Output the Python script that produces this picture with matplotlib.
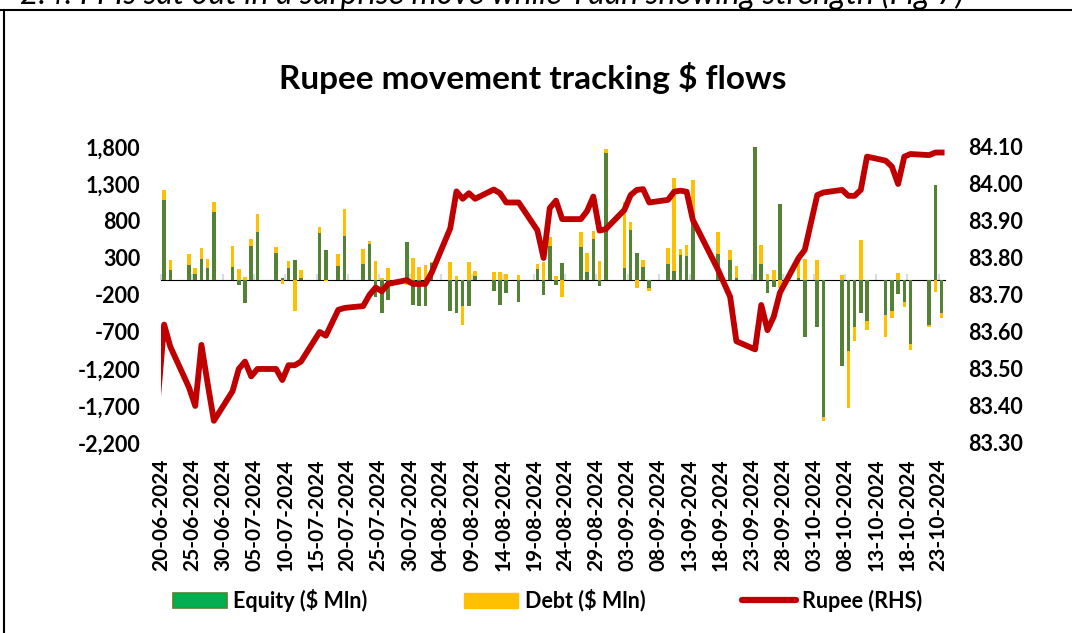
import matplotlib
matplotlib.use("Agg")
import matplotlib.pyplot as plt
from matplotlib.lines import Line2D
from matplotlib.patches import Patch
from matplotlib.ticker import FuncFormatter
import numpy as np
import pandas as pd

plt.rcParams['font.family'] = ['Lato', 'DejaVu Sans']
plt.rcParams['font.weight'] = 'bold'

# daily FPI flows ($ mn) and USD/INR, trading days only
flow_dates = [
    '20-06-2024', '21-06-2024', '24-06-2024', '25-06-2024', '26-06-2024', '27-06-2024', '28-06-2024',
    '01-07-2024', '02-07-2024', '03-07-2024', '04-07-2024', '05-07-2024',
    '08-07-2024', '09-07-2024', '10-07-2024', '11-07-2024', '12-07-2024',
    '15-07-2024', '16-07-2024', '18-07-2024', '19-07-2024',
    '22-07-2024', '23-07-2024', '24-07-2024', '25-07-2024', '26-07-2024',
    '29-07-2024', '30-07-2024', '31-07-2024', '01-08-2024', '02-08-2024',
    '05-08-2024', '06-08-2024', '07-08-2024', '08-08-2024', '09-08-2024',
    '12-08-2024', '13-08-2024', '14-08-2024', '16-08-2024',
    '19-08-2024', '20-08-2024', '21-08-2024', '22-08-2024', '23-08-2024',
    '26-08-2024', '27-08-2024', '28-08-2024', '29-08-2024', '30-08-2024',
    '02-09-2024', '03-09-2024', '04-09-2024', '05-09-2024', '06-09-2024',
    '09-09-2024', '10-09-2024', '11-09-2024', '12-09-2024', '13-09-2024',
    '17-09-2024', '19-09-2024', '20-09-2024',
    '23-09-2024', '24-09-2024', '25-09-2024', '26-09-2024', '27-09-2024',
    '30-09-2024', '01-10-2024', '03-10-2024', '04-10-2024',
    '07-10-2024', '08-10-2024', '09-10-2024', '10-10-2024', '11-10-2024',
    '14-10-2024', '15-10-2024', '16-10-2024', '17-10-2024', '18-10-2024',
    '21-10-2024', '22-10-2024', '23-10-2024',
]

equity = [
    1084, 135, 202, 90, 288, 166, 922,
    175, -68, -310, 459, 657,
    369, 27, 171, 274, 32,
    635, 410, 194, 594,
    216, 486, -225, -441, -270,
    522, -333, -351, -351, 230,
    -414, -450, -347, -347, 50,
    -149, -338, -180, -293,
    147, -203, 464, -63, 230,
    450, 104, 563, -77, 1719,
    171, 675, 374, 180, -99,
    216, 126, 342, 329, 800,
    351, 279, 36,
    1800, 225, -180, -90, 1035,
    36, -774, -630, -1845,
    -1161, -963, -639, -446, -558,
    -468, -414, -189, -297, -864,
    -608, 1283, -450,
]

debt = [
    131, 139, 158, 76, 148, 122, 131,
    284, 153, 40, 94, 243,
    81, -45, 90, -423, 103,
    90, -5, 166, 369,
    212, 45, 261, 36, 171,
    -60, 297, 180, 211, 10,
    239, 50, -261, 239, 68,
    113, 117, 81, 68,
    72, 248, 121, 58, -234,
    207, 265, 103, 257, 50,
    887, 113, -108, 90, -50,
    216, 1260, 86, 148, 550,
    306, 135, 158,
    0, 248, 81, 140, -110,
    225, 284, 275, -63,
    68, -765, -189, 540, -113,
    -306, -95, 95, -59, -81,
    -23, -158, -63,
]

rupee_dates = ['19-06-2024'] + flow_dates
rupee = [
    83.42,
    83.62, 83.56, 83.45, 83.40, 83.565, 83.46, 83.36,
    83.44, 83.50, 83.52, 83.48, 83.50,
    83.50, 83.47, 83.51, 83.51, 83.52,
    83.60, 83.59, 83.66, 83.665,
    83.67, 83.70, 83.72, 83.71, 83.73,
    83.74, 83.73, 83.73, 83.73, 83.76,
    83.88, 83.98, 83.96, 83.975, 83.96,
    83.985, 83.975, 83.95, 83.95,
    83.875, 83.80, 83.935, 83.955, 83.905,
    83.905, 83.927, 83.966, 83.874, 83.878,
    83.93, 83.97, 83.984, 83.986, 83.95,
    83.957, 83.979, 83.982, 83.979, 83.903,
    83.77, 83.695, 83.575,
    83.553, 83.673, 83.605, 83.641, 83.706,
    83.80, 83.822, 83.97, 83.977,
    83.984, 83.968, 83.968, 83.984, 84.074,
    84.063, 84.047, 84.00, 84.074, 84.081,
    84.078, 84.085, 84.085,
]

start = pd.Timestamp('2024-06-20')
end = pd.Timestamp('2024-10-23')

GREEN = '#548235'
YELLOW = '#FFC000'
RED = '#C00000'
AXIS = '#D6DCE5'

xf = (pd.to_datetime(flow_dates, format='%d-%m-%Y') - start).days.values + 0.5
xr = (pd.to_datetime(rupee_dates, format='%d-%m-%Y') - start).days.values + 0.5
eq = np.array(equity, dtype=float)
dt = np.array(debt, dtype=float)
# excel-style stacking: same-sign values stack, opposite signs start at zero
debt_bottom = np.where(np.sign(eq) == np.sign(dt), eq, 0)

fig = plt.figure(figsize=(10.72, 6.33), dpi=100)
ax = fig.add_axes([0.1502, 0.3002, 0.7311, 0.4676])

ax.bar(xf, eq, width=0.58, color=GREEN, zorder=3)
ax.bar(xf, dt, width=0.58, bottom=debt_bottom, color=YELLOW, zorder=3)

ax.set_xlim(0, 126)
ax.set_ylim(-2200, 1800)
ax.set_yticks(np.arange(-2200, 1801, 500))
ax.yaxis.set_major_formatter(FuncFormatter(lambda v, p: f'{v:,.0f}'))
for s in ax.spines.values():
    s.set_visible(False)

ticks = pd.date_range(start, end, freq='5D')
tpos = (ticks - start).days.values
ax.set_xticks(tpos)
ax.set_xticklabels(ticks.strftime('%d-%m-%Y'), rotation=90)
ax.tick_params(axis='x', length=0, pad=11, labelsize=15)
ax.tick_params(axis='y', length=0, pad=15, labelsize=15.5)

# zero line with its own small ticks
zero = ax.secondary_xaxis(2200 / 4000)
zero.set_xticks(tpos)
zero.set_xticklabels([])
zero.spines['bottom'].set_color(AXIS)
zero.spines['bottom'].set_linewidth(1.5)
zero.tick_params(axis='x', length=4.5, width=1.5, color=AXIS, direction='out')

ax2 = ax.twinx()
ax2.plot(xr, rupee, color=RED, lw=4.2, solid_joinstyle='round', zorder=4)
ax2.set_ylim(83.30, 84.10)
ax2.set_yticks(np.round(np.arange(83.30, 84.101, 0.10), 2))
ax2.yaxis.set_major_formatter(FuncFormatter(lambda v, p: f'{v:.2f}'))
ax2.tick_params(axis='y', length=0, pad=17, labelsize=15.5)
for s in ax2.spines.values():
    s.set_visible(False)

fig.text(0.497, 0.877, 'Rupee movement tracking $ flows', ha='center', va='center',
         fontsize=24, fontweight='bold')

handles = [
    Patch(facecolor='#00B050', edgecolor=GREEN, linewidth=1.2),
    Patch(facecolor=YELLOW, edgecolor=YELLOW),
    Line2D([0], [0], color=RED, lw=4.5, solid_capstyle='round'),
]
fig.legend(handles, ['Equity ($ Mln)', 'Debt ($ Mln)', 'Rupee (RHS)'],
           loc='center', bbox_to_anchor=(0.511, 0.052), ncol=3, frameon=False,
           fontsize=15.5, handlelength=2.5, handleheight=0.7, handletextpad=0.3,
           columnspacing=4.5)

# frame of the source page and the clipped caption above it
fig.add_artist(Line2D([0, 1], [1 - 10 / 633, 1 - 10 / 633], transform=fig.transFigure,
                      color='black', lw=1.5))
fig.add_artist(Line2D([4 / 1072, 4 / 1072], [0, 1 - 10 / 633], transform=fig.transFigure,
                      color='black', lw=1.5))
fig.text(20 / 1072, 1 - 4 / 633, '2.4: FPIs sat out in a surprise move while Yuan showing strength (Fig 7)',
         ha='left', va='baseline', fontsize=23, fontstyle='italic', fontweight='normal')

fig.savefig('out.png', dpi=100)
